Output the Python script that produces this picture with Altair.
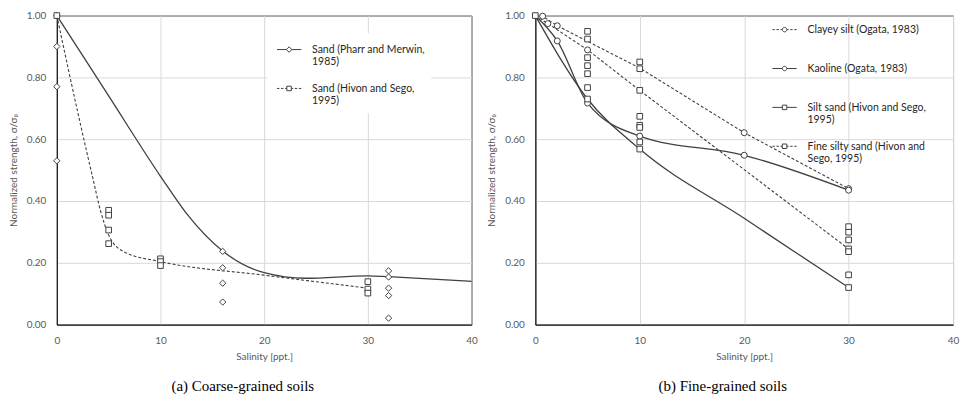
import altair as alt
import pandas as pd

# ---------------- Panel (a): coarse-grained soils ----------------
a_names = ["Sand (Pharr and Merwin,|1985)", "Sand (Hivon and Sego,|1995)"]

pm_pts_x = [0, 0, 0, 0, 16, 16, 16, 16, 32, 32, 32, 32, 32]
pm_pts_y = [1.00, 0.90, 0.77, 0.53, 0.237, 0.184, 0.134, 0.073, 0.174, 0.154, 0.118, 0.094, 0.021]
pm_line_x = [0, 5, 10, 12.5, 16, 20, 24, 30, 32, 40]
pm_line_y = [1.00, 0.74, 0.48, 0.36, 0.238, 0.168, 0.150, 0.158, 0.155, 0.140]

hs_pts_x = [0, 5, 5, 5, 5, 10, 10, 10, 30, 30, 30]
hs_pts_y = [1.00, 0.370, 0.354, 0.306, 0.262, 0.213, 0.204, 0.191, 0.139, 0.115, 0.102]
hs_line_x = [0, 2.2, 3.5, 4.2, 5, 6.5, 10, 20, 30]
hs_line_y = [1.00, 0.66, 0.47, 0.37, 0.29, 0.235, 0.204, 0.160, 0.118]

# ---------------- Panel (b): fine-grained soils ----------------
b_names = ["Clayey silt (Ogata, 1983)| ", "Kaoline (Ogata, 1983)| ",
           "Silt sand (Hivon and Sego,|1995)", "Fine silty sand (Hivon and|Sego, 1995)"]

cs_line_x = [0, 0.7, 2.1, 10, 20, 30]
cs_line_y = [1.00, 0.998, 0.967, 0.83, 0.621, 0.44]
cs_pts_x = [0.7, 1.2, 2.1, 5, 20, 30]
cs_pts_y = [0.998, 0.974, 0.967, 0.889, 0.621, 0.44]

ka_line_x = [0, 2.1, 5, 10, 20, 30]
ka_line_y = [1.00, 0.918, 0.717, 0.61, 0.548, 0.435]
ka_pts_x = [2.1, 5, 10, 20, 30]
ka_pts_y = [0.918, 0.717, 0.61, 0.548, 0.435]

ss_line_x = [0, 5, 10, 20, 30]
ss_line_y = [1.00, 0.73, 0.568, 0.344, 0.12]
ss_pts_x = [0, 5, 10, 30, 30]
ss_pts_y = [1.00, 0.73, 0.568, 0.161, 0.12]

fs_line_x = [0, 1.2, 5, 10, 30]
fs_line_y = [1.00, 0.974, 0.889, 0.758, 0.245]
fs_pts_x = [5, 5, 5, 5, 5, 5, 10, 10, 10, 10, 10, 10, 10, 30, 30, 30, 30, 30]
fs_pts_y = [0.949, 0.924, 0.864, 0.838, 0.812, 0.767,
            0.85, 0.828, 0.758, 0.674, 0.645, 0.638, 0.591,
            0.317, 0.299, 0.274, 0.245, 0.236]

x_ticks = [0, 10, 20, 30, 40]
y_ticks = [0.0, 0.2, 0.4, 0.6, 0.8, 1.0]

INK = "#404040"
FONT = "Lato"

# ---------------- legend symbol paths (line + marker) ----------------
DY = 0.92


def seg(a, b):
    return f"M{a},{DY}L{b},{DY}"


SOLID = seg(-2.43, -0.5) + seg(0.5, 2.43)
DASHED = (seg(-2.43, -1.95) + seg(-1.62, -1.14) + seg(-0.81, -0.5)
          + seg(0.5, 0.81) + seg(1.14, 1.62) + seg(1.95, 2.43))
DIAMOND = f"M0,{DY-0.55}L0.55,{DY}L0,{DY+0.55}L-0.55,{DY}Z"
SQUARE = f"M-0.45,{DY-0.45}L0.45,{DY-0.45}L0.45,{DY+0.45}L-0.45,{DY+0.45}Z"
CIRCLE = f"M-0.45,{DY}A0.45,0.45 0 1,0 0.45,{DY}A0.45,0.45 0 1,0 -0.45,{DY}Z"

xenc = alt.X("x:Q", scale=alt.Scale(domain=[0, 40], nice=False),
             axis=alt.Axis(values=x_ticks, title="Salinity [ppt.]", labelFlush=False))
yenc = alt.Y("y:Q", scale=alt.Scale(domain=[0, 1], nice=False),
             axis=alt.Axis(values=y_ticks, format=".2f", title="Normalized strength, σ/σ₀"))


def line_layer(xs, ys, dashed, interp):
    df = pd.DataFrame({"x": xs, "y": ys})
    kw = dict(color=INK, strokeWidth=1.3, interpolate=interp)
    if dashed:
        kw["strokeDash"] = [3, 2]
        kw["strokeWidth"] = 1.1
    return alt.Chart(df).mark_line(**kw).encode(x=xenc, y=yenc)


def marker_layer(xs, ys, shape, size):
    df = pd.DataFrame({"x": xs, "y": ys})
    return alt.Chart(df).mark_point(shape=shape, size=size, filled=True, fill="white",
                                    stroke=INK, strokeWidth=1, opacity=1).encode(x=xenc, y=yenc)


def legend_layer(names, paths, lx, ly, fill):
    df = pd.DataFrame({"x": [0] * len(names), "y": [0] * len(names), "s": names})
    leg = alt.Legend(orient="none", legendX=lx, legendY=ly, direction="vertical",
                     symbolSize=100, symbolOffset=10, labelOffset=17.5,
                     symbolStrokeColor=INK, symbolStrokeWidth=1,
                     symbolOpacity=1, labelFont=FONT, labelFontSize=10.5, labelColor="#262626",
                     labelBaseline="top", labelLimit=400, rowPadding=10, padding=6,
                     fillColor=fill, labelExpr="split(datum.label, '|')")
    return alt.Chart(df).transform_filter("false").mark_point(
        filled=False, color=INK, strokeWidth=1, opacity=1
    ).encode(
        x=xenc, y=yenc,
        shape=alt.Shape("s:N", title=None, scale=alt.Scale(domain=names, range=paths), legend=leg),
    )


caption_style = dict(orient="bottom", anchor="middle", frame="bounds", font="Liberation Serif",
                     fontSize=15, fontWeight="normal", color="black", offset=18)

left = alt.layer(
    line_layer(pm_line_x, pm_line_y, False, "monotone"),
    line_layer(hs_line_x, hs_line_y, True, "monotone"),
    marker_layer(pm_pts_x, pm_pts_y, "diamond", 40),
    marker_layer(hs_pts_x, hs_pts_y, "square", 32),
    legend_layer(a_names, [SOLID + DIAMOND, DASHED + SQUARE], 211.5, 18, "white"),
).properties(width=416, height=310,
             title=alt.TitleParams(text="(a) Coarse-grained soils", **caption_style))

right = alt.layer(
    line_layer(cs_line_x, cs_line_y, True, "linear"),
    line_layer(fs_line_x, fs_line_y, True, "linear"),
    line_layer(ka_line_x, ka_line_y, False, "monotone"),
    line_layer(ss_line_x, ss_line_y, False, "monotone"),
    marker_layer(cs_pts_x, cs_pts_y, "circle", 36),
    marker_layer(ka_pts_x, ka_pts_y, "circle", 36),
    marker_layer(ss_pts_x, ss_pts_y, "square", 32),
    marker_layer(fs_pts_x, fs_pts_y, "square", 32),
    legend_layer(b_names, [DASHED + CIRCLE, SOLID + CIRCLE, SOLID + SQUARE, DASHED + SQUARE],
                 228.5, -2, "transparent"),
).properties(width=419, height=310,
             title=alt.TitleParams(text="(b) Fine-grained soils", **caption_style))

chart = alt.hconcat(left, right, spacing=7).resolve_scale(
    shape="independent"
).resolve_legend(shape="independent").properties(
    padding={"left": 7, "top": 9, "right": 5, "bottom": 5}
).configure_view(
    stroke="black", strokeWidth=1
).configure_axis(
    grid=True, gridColor="#d9d9d9", gridWidth=1, ticks=False, tickSize=0,
    domainColor="black", labelFont=FONT, labelFontSize=10, labelColor="#595959",
    titleFont=FONT, titleFontSize=10, titleFontWeight="normal", titleColor="#595959"
).configure_axisX(labelPadding=11, titlePadding=6).configure_axisY(labelPadding=11, titlePadding=8)

chart.save("out.html", embed_options={"renderer": "svg", "actions": False})
